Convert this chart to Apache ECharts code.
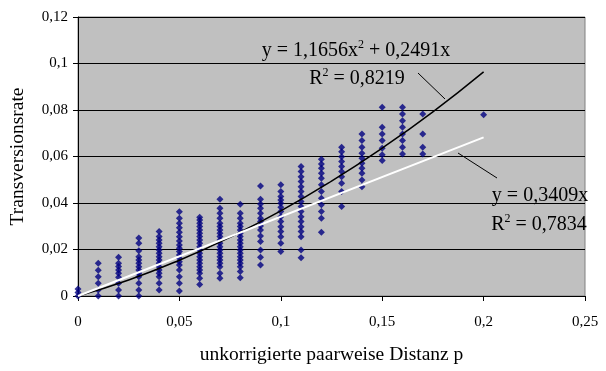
<!DOCTYPE html>
<html>
<head>
<meta charset="utf-8">
<script src="https://cdn.jsdelivr.net/npm/echarts@6/dist/echarts.min.js"></script>
<style>
  html, body { margin: 0; padding: 0; background: #fff; }
  #chart { width: 606px; height: 371px; }
</style>
</head>
<body>
<div id="chart"></div>
<script>
// distance columns (x) and the rates measured at each one
const distances = [0, 0.01, 0.02, 0.03, 0.04, 0.05, 0.06, 0.07, 0.08, 0.09, 0.1, 0.11, 0.12, 0.13, 0.14, 0.15, 0.16, 0.17, 0.2];
const rates = [
  [0, 0.0015, 0.003],
  [0, 0.0026, 0.0055, 0.0083, 0.0111, 0.0141],
  [0, 0.0026, 0.0055, 0.0081, 0.0098, 0.0112, 0.0127, 0.0141, 0.0167],
  [0, 0.0026, 0.0055, 0.0083, 0.0098, 0.0112, 0.0126, 0.0141, 0.0155, 0.0169, 0.0195, 0.0227, 0.0249],
  [0.0026, 0.0055, 0.0083, 0.0098, 0.0112, 0.0126, 0.0141, 0.0155, 0.0169, 0.0184, 0.0198, 0.0212, 0.0227, 0.0241, 0.0256, 0.0277],
  [0.0022, 0.0055, 0.0083, 0.0112, 0.0133, 0.0147, 0.0162, 0.0176, 0.0191, 0.0205, 0.0219, 0.0237, 0.0255, 0.0274, 0.0294, 0.0313, 0.0334, 0.0362],
  [0.005, 0.0076, 0.0098, 0.0112, 0.0126, 0.0141, 0.0155, 0.0169, 0.0184, 0.0198, 0.0212, 0.0227, 0.0241, 0.0256, 0.027, 0.0284, 0.0299, 0.0313, 0.0327, 0.0339],
  [0.0076, 0.0098, 0.0126, 0.0141, 0.0155, 0.0169, 0.0184, 0.0198, 0.0212, 0.0227, 0.0241, 0.0256, 0.027, 0.0284, 0.0299, 0.0313, 0.0334, 0.0356, 0.0377, 0.0416],
  [0.0079, 0.0105, 0.0126, 0.0141, 0.0155, 0.0169, 0.0184, 0.0198, 0.0212, 0.0227, 0.0241, 0.0256, 0.027, 0.0284, 0.0299, 0.0313, 0.0334, 0.0356, 0.0395],
  [0.0133, 0.0167, 0.0198, 0.0234, 0.0258, 0.0284, 0.0301, 0.032, 0.0334, 0.0356, 0.0377, 0.0396, 0.0416, 0.0473],
  [0.0191, 0.0227, 0.0255, 0.0277, 0.0298, 0.032, 0.0341, 0.0363, 0.0382, 0.0399, 0.0413, 0.0428, 0.0449, 0.0478],
  [0.0165, 0.0198, 0.0255, 0.0277, 0.0298, 0.032, 0.0341, 0.0363, 0.0385, 0.0406, 0.0428, 0.0449, 0.047, 0.0492, 0.0513, 0.0535, 0.0557],
  [0.0274, 0.0334, 0.0363, 0.0392, 0.042, 0.0449, 0.0478, 0.0506, 0.0528, 0.055, 0.0568, 0.0588],
  [0.0385, 0.0449, 0.0485, 0.0513, 0.0535, 0.0557, 0.0578, 0.0599, 0.062, 0.064],
  [0.047, 0.0499, 0.0528, 0.055, 0.0571, 0.0592, 0.0614, 0.064, 0.0669, 0.0697],
  [0.0583, 0.0607, 0.0636, 0.0669, 0.0697, 0.0726, 0.0812],
  [0.0611, 0.064, 0.0669, 0.0697, 0.0726, 0.0754, 0.0783, 0.0812],
  [0.0611, 0.064, 0.0697, 0.0783],
  [0.078]
];

// trendlines
const trendX = [0, 0.025, 0.05, 0.075, 0.1, 0.125, 0.15, 0.175, 0.2];
const polyTrend = [0, 0.0069, 0.0154, 0.0253, 0.0366, 0.0494, 0.0636, 0.0792, 0.0964];
const linearX = [0, 0.2];
const linearTrend = [0, 0.0682];

const xTicks = ['0', '0,05', '0,1', '0,15', '0,2', '0,25'];
const yTicks = ['0', '0,02', '0,04', '0,06', '0,08', '0,1', '0,12'];

const points = [];
distances.forEach((d, i) => rates[i].forEach(r => points.push([d, r])));

const font = '"Liberation Serif", "Times New Roman", serif';
const chart = echarts.init(document.getElementById('chart'), null, { renderer: 'canvas' });

// equation label with a raised "2"
function eqText(x, y, text) {
  return {
    type: 'text', x: x, y: y,
    style: {
      text: text,
      align: 'center', verticalAlign: 'middle',
      rich: {
        n: { fontFamily: font, fontSize: 20, color: '#000', lineHeight: 22, verticalAlign: 'bottom' },
        s: { fontFamily: font, fontSize: 12, color: '#000', lineHeight: 22, verticalAlign: 'top' }
      }
    }
  };
}

chart.setOption({
  backgroundColor: '#fff',
  animation: false,
  grid: {
    left: 78, right: 21, top: 17, bottom: 75,
    show: true, backgroundColor: '#c0c0c0', borderColor: '#808080', borderWidth: 1,
    containLabel: false, outerBoundsMode: 'none'
  },
  xAxis: {
    type: 'value', min: 0, max: 0.25, interval: 0.05,
    name: 'unkorrigierte paarweise Distanz p',
    nameLocation: 'middle', nameGap: 49,
    nameTextStyle: { fontFamily: font, fontSize: 19.5, color: '#000' },
    axisLine: { show: true, lineStyle: { color: '#000', width: 1 } },
    axisTick: { show: true, length: 5, lineStyle: { color: '#000' } },
    axisLabel: {
      fontFamily: font, fontSize: 15, color: '#000', margin: 19,
      formatter: (v) => xTicks[Math.round(v / 0.05)]
    },
    splitLine: { show: false }
  },
  yAxis: {
    type: 'value', min: 0, max: 0.12, interval: 0.02,
    name: 'Transversionsrate',
    nameLocation: 'middle', nameGap: 50,
    nameTextStyle: { fontFamily: font, fontSize: 19.5, color: '#000' },
    axisLine: { show: true, lineStyle: { color: '#000', width: 1 } },
    axisTick: { show: true, length: 5, lineStyle: { color: '#000' } },
    axisLabel: {
      fontFamily: font, fontSize: 15, color: '#000', margin: 10,
      formatter: (v) => yTicks[Math.round(v / 0.02)]
    },
    splitLine: { show: true, lineStyle: { color: '#000', width: 1 } }
  },
  series: [
    {
      type: 'scatter',
      data: points,
      symbol: 'diamond',
      symbolSize: 7,
      itemStyle: { color: '#000080' }
    },
    {
      type: 'line',
      data: trendX.map((x, i) => [x, polyTrend[i]]),
      smooth: true,
      showSymbol: false,
      lineStyle: { color: '#000', width: 1.5 },
      z: 3
    },
    {
      type: 'line',
      data: linearX.map((x, i) => [x, linearTrend[i]]),
      showSymbol: false,
      lineStyle: { color: '#fff', width: 2 },
      z: 3
    }
  ],
  graphic: [
    eqText(356, 50, '{n|y = 1,1656x}{s|2}{n| + 0,2491x}'),
    eqText(357, 78, '{n|R}{s|2}{n| = 0,8219}'),
    { type: 'line', shape: { x1: 418, y1: 73, x2: 445, y2: 99 }, style: { stroke: '#000', lineWidth: 1 } },
    eqText(540, 195, '{n|y = 0,3409x}'),
    eqText(539, 224, '{n|R}{s|2}{n| = 0,7834}'),
    { type: 'line', shape: { x1: 458, y1: 153, x2: 497, y2: 178 }, style: { stroke: '#000', lineWidth: 1 } }
  ]
});
</script>
</body>
</html>
